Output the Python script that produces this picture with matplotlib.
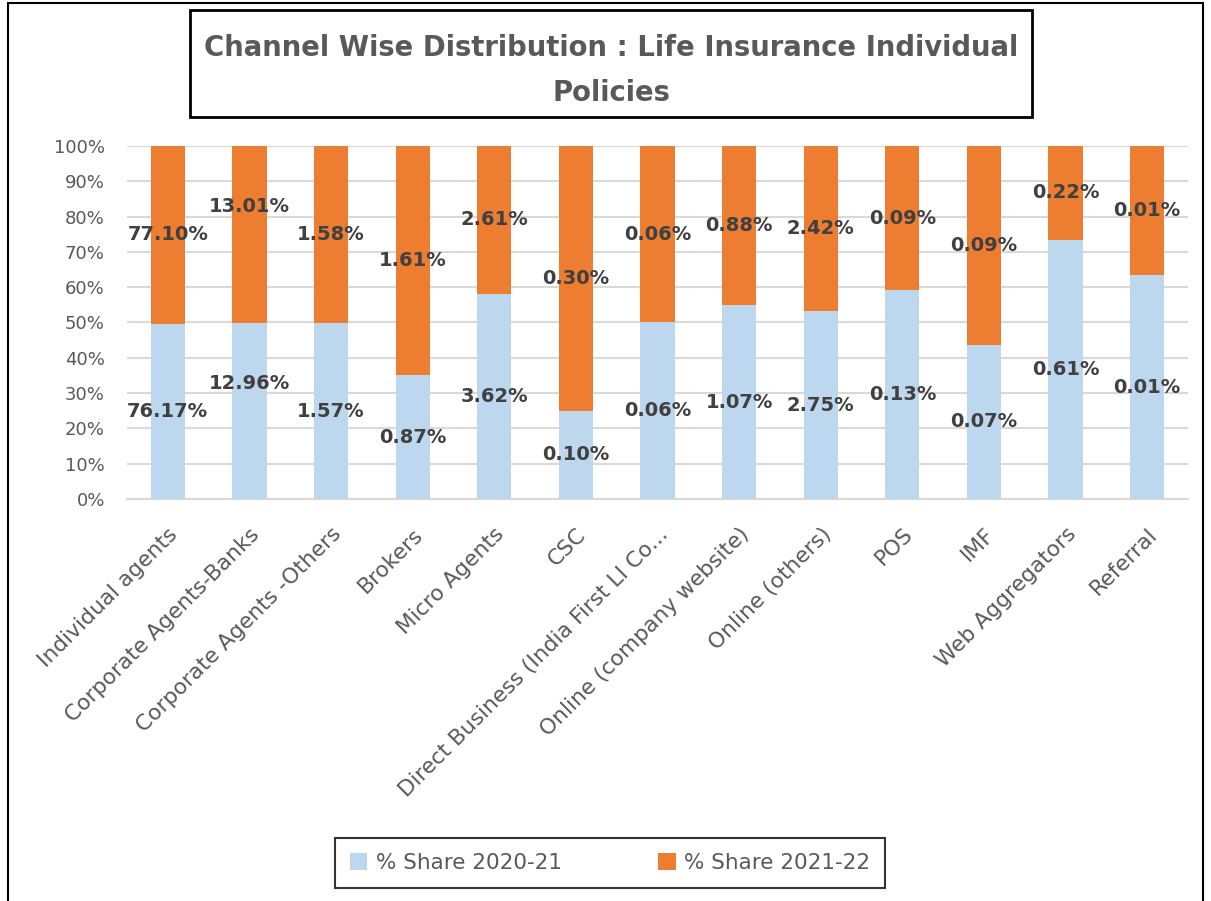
import matplotlib.pyplot as plt
import numpy as np
from matplotlib.patches import Rectangle

channels = ['Individual agents', 'Corporate Agents-Banks', 'Corporate Agents -Others',
            'Brokers', 'Micro Agents', 'CSC', 'Direct Business (India First LI Co...',
            'Online (company website)', 'Online (others)', 'POS', 'IMF',
            'Web Aggregators', 'Referral']
share_2021 = [76.17, 12.96, 1.57, 0.87, 3.62, 0.10, 0.06, 1.07, 2.75, 0.13, 0.07, 0.61, 0.0135]
share_2122 = [77.10, 13.01, 1.58, 1.61, 2.61, 0.30, 0.06, 0.88, 2.42, 0.09, 0.09, 0.22, 0.0078]

blue = '#BDD7EE'
orange = '#ED7D31'
txt_gray = '#595959'
lbl_gray = '#404040'

W, H = 1211, 901
fig = plt.figure(figsize=(W / 100, H / 100), dpi=100)
ax = fig.add_axes([127 / W, 1 - 499 / H, (1188 - 127) / W, (499 - 146) / H])

a = np.array(share_2021)
b = np.array(share_2122)
tot = a + b
pa = a / tot * 100
pb = b / tot * 100
x = np.arange(len(channels))
bw = 0.42

ax.bar(x, pa, bw, color=blue, label='% Share 2020-21', zorder=3)
ax.bar(x, pb, bw, bottom=pa, color=orange, label='% Share 2021-22', zorder=3)

# label nudges (points) for the one bar Excel had moved
nudge = {1: 20}
for i in range(len(x)):
    dy = nudge.get(i, 0)
    ax.annotate('%.2f%%' % a[i], (x[i], pa[i] / 2), xytext=(0, dy), textcoords='offset points',
                ha='center', va='center', fontsize=14, fontweight='bold', color=lbl_gray, zorder=4)
    ax.annotate('%.2f%%' % b[i], (x[i], pa[i] + pb[i] / 2), xytext=(0, dy), textcoords='offset points',
                ha='center', va='center', fontsize=14, fontweight='bold', color=lbl_gray, zorder=4)

ax.set_xlim(-0.5, len(channels) - 0.5)
ax.set_ylim(0, 100)
ax.set_yticks(np.arange(0, 101, 10))
ax.set_yticklabels(['%d%%' % v for v in range(0, 101, 10)], fontsize=13, color=txt_gray)
ax.set_xticks(x)
ax.set_xticklabels(channels, rotation=45, ha='right', rotation_mode='anchor',
                   fontsize=15.7, color=txt_gray)
ax.tick_params(axis='y', length=0, pad=16)
ax.tick_params(axis='x', length=0, pad=18)
ax.grid(axis='y', color='#D9D9D9', linewidth=1.5, zorder=0)
for s in ['top', 'right', 'left']:
    ax.spines[s].set_visible(False)
ax.spines['bottom'].set_color('#D9D9D9')
ax.spines['bottom'].set_linewidth(1.5)

# title box
fig.patches.append(Rectangle((190 / W, 1 - 117 / H), (1032 - 190) / W, (117 - 10) / H,
                             transform=fig.transFigure, fill=False, edgecolor='black', linewidth=2))
fig.text(611 / W, 1 - 48 / H, 'Channel Wise Distribution : Life Insurance Individual',
         ha='center', va='center', fontsize=19.8, fontweight='bold', color=txt_gray)
fig.text(611 / W, 1 - 93 / H, 'Policies',
         ha='center', va='center', fontsize=19.8, fontweight='bold', color=txt_gray)

# outer chart border
fig.patches.append(Rectangle((8 / W, -0.05), (1203 - 8) / W, 1 - 3 / H + 0.05,
                             transform=fig.transFigure, fill=False, edgecolor='black', linewidth=1.5))

leg = fig.legend(loc='center', bbox_to_anchor=(610 / W, 1 - 863 / H), ncol=2,
                 fontsize=15.5, frameon=True, fancybox=False, edgecolor='black',
                 handlelength=0.8, handleheight=0.8, handletextpad=0.4, columnspacing=4.5,
                 borderpad=0.7, borderaxespad=0)
leg.get_frame().set_linewidth(1.5)
for t in leg.get_texts():
    t.set_color(txt_gray)

fig.savefig('out.png', dpi=100)
